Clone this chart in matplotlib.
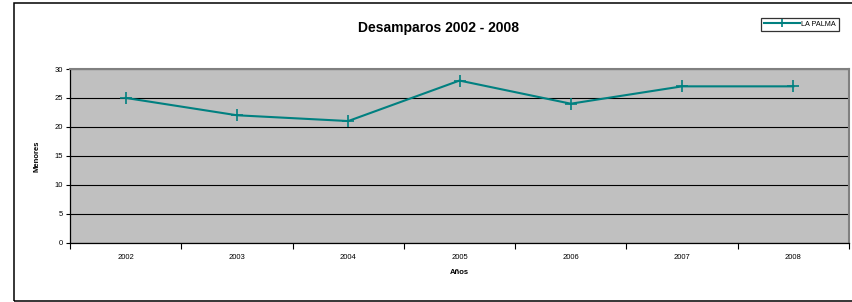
import matplotlib
matplotlib.use("Agg")
import matplotlib.pyplot as plt
from matplotlib.patches import Rectangle
from matplotlib.ticker import FixedLocator, NullFormatter

years = ["2002", "2003", "2004", "2005", "2006", "2007", "2008"]
values = [25, 22, 21, 28, 24, 27, 27]
series_name = "LA PALMA"
title = "Desamparos 2002 - 2008"

plt.rcParams['font.family'] = ['Liberation Sans', 'DejaVu Sans']

W, H = 852, 302
fig = plt.figure(figsize=(W / 100, H / 100), dpi=100)
fig.patch.set_facecolor("white")

# outer chart frame (right side runs off the image)
fig.patches.append(Rectangle((14 / W, 1.5 / H), 1.0, 1 - 4.5 / H, transform=fig.transFigure,
                             fill=False, edgecolor="black", linewidth=1.1))

ax = fig.add_axes([70 / W, 1 - 242.5 / H, 779 / W, (242.5 - 69) / H])
ax.set_facecolor("#C0C0C0")

x = list(range(len(years)))
line, = ax.plot(x, values, color="#008080", linewidth=1.5, marker="+",
                markersize=9, markeredgewidth=1.2, label=series_name, zorder=3)

ax.set_xlim(-0.5, len(years) - 0.5)
ax.set_ylim(0, 30)
ax.set_yticks(range(0, 31, 5))
ax.yaxis.grid(True, color="black", linewidth=0.8)
ax.set_axisbelow(True)

# category labels centred, tick marks at boundaries
ax.set_xticks(x)
ax.set_xticklabels(years, fontsize=5.5)
ax.tick_params(axis="x", which="major", length=0, pad=8)
ax.xaxis.set_minor_locator(FixedLocator([i - 0.5 for i in range(len(years) + 1)]))
ax.xaxis.set_minor_formatter(NullFormatter())
ax.tick_params(axis="x", which="minor", length=4, width=0.8, color="black")
ax.tick_params(axis="y", length=3, width=0.8, labelsize=5.5, pad=2)

for s in ["left", "bottom"]:
    ax.spines[s].set_color("black")
    ax.spines[s].set_linewidth(0.9)
for s in ["top", "right"]:
    ax.spines[s].set_color("#808080")
    ax.spines[s].set_linewidth(1.5)

ax.set_xlabel("Años", fontsize=5.5, fontweight="bold", labelpad=6)
ax.set_ylabel("Menores", fontsize=5.5, fontweight="bold", labelpad=10)

fig.text(438 / W, 1 - 28 / H, title, ha="center", va="center",
         fontsize=10, fontweight="bold")

leg = fig.legend(handles=[line], labels=[series_name], loc="center",
                 bbox_to_anchor=(800 / W, 1 - 24.5 / H), fontsize=5.2,
                 frameon=True, fancybox=False, edgecolor="black",
                 handlelength=5.0, handletextpad=0.1, borderpad=0.45,
                 borderaxespad=0, markerscale=0.6)
leg.get_frame().set_linewidth(0.9)

fig.savefig("out.png", dpi=100)
